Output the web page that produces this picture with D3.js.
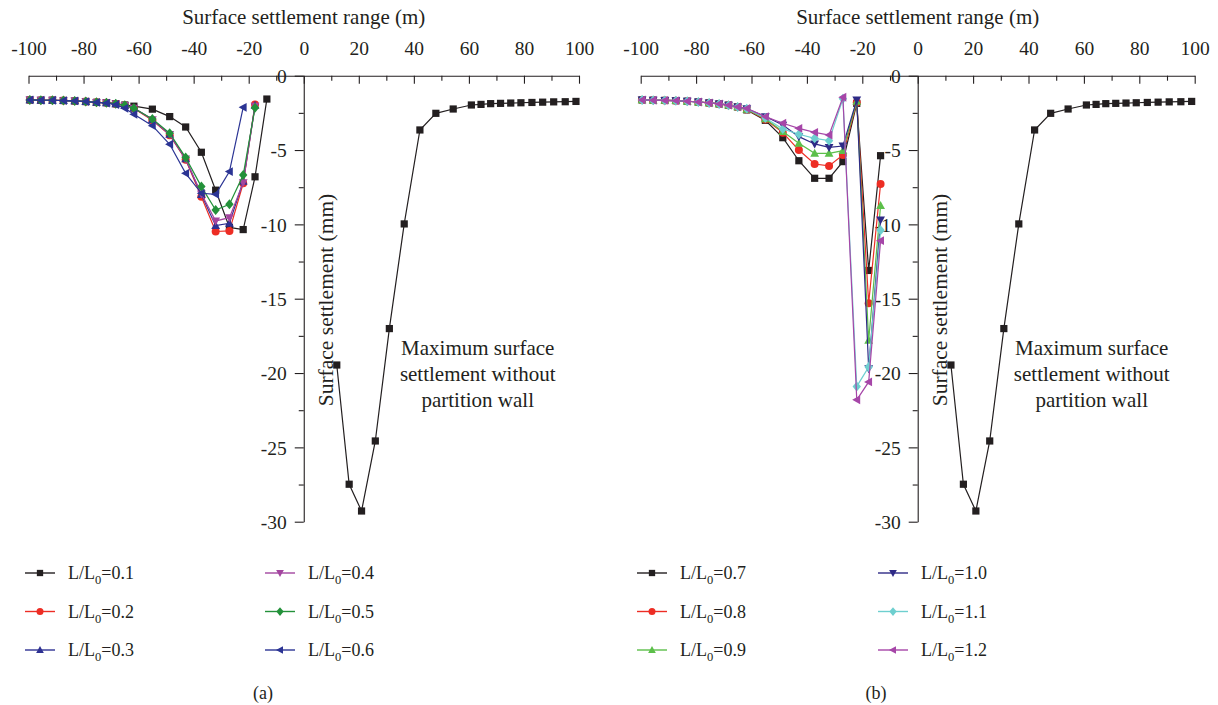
<!DOCTYPE html>
<html>
<head>
<meta charset="utf-8">
<script src="https://cdn.jsdelivr.net/npm/d3@7"></script>
<style>
  html, body { margin: 0; padding: 0; background: #fff; }
  svg { display: block; font-family: "Liberation Serif", "DejaVu Serif", serif; }
  .axis path, .axis line { stroke: #231f20; stroke-width: 1.1; }
  .axis text { fill: #231f20; font-size: 19.5px; font-family: "Liberation Serif", serif; }
</style>
</head>
<body>
<svg id="chart" width="1218" height="705"></svg>
<script>
// Horizontal positions of the monitoring points on the partitioned side (m)
const xLeft = [-99.5, -95.5, -91.3, -87.3, -83.2, -79.2, -75.3, -71.7, -68.3, -65.0,
               -61.7, -55.0, -48.7, -42.9, -37.2, -32.0, -27.0, -22.0, -17.7, -13.4];

// Panel (a): settlement (mm) for L/L0 = 0.1 ... 0.6
const s01 = [-1.63, -1.65, -1.65, -1.67, -1.70, -1.74, -1.79, -1.81, -1.88, -1.97,
             -2.05, -2.25, -2.75, -3.45, -5.15, -7.70, -10.20, -10.35, -6.80, -1.57];
const s02 = [-1.63, -1.65, -1.65, -1.67, -1.70, -1.74, -1.79, -1.82, -1.90, -2.00,
             -2.20, -3.00, -4.00, -5.65, -8.14, -10.48, -10.44, -7.24, -1.93];
const s03 = [-1.63, -1.65, -1.65, -1.67, -1.70, -1.74, -1.79, -1.82, -1.90, -2.00,
             -2.18, -2.95, -3.95, -5.60, -8.00, -10.09, -9.93, -7.10, -2.00];
const s04 = [-1.63, -1.65, -1.65, -1.67, -1.70, -1.74, -1.79, -1.82, -1.90, -2.00,
             -2.18, -2.95, -3.95, -5.60, -7.95, -9.77, -9.55, -7.20, -2.05];
const s05 = [-1.63, -1.65, -1.65, -1.67, -1.70, -1.74, -1.79, -1.82, -1.89, -1.98,
             -2.19, -2.91, -3.87, -5.51, -7.46, -9.03, -8.65, -6.68, -2.15];
const s06 = [-1.63, -1.65, -1.65, -1.67, -1.70, -1.74, -1.80, -1.85, -1.95, -2.19,
             -2.60, -3.36, -4.61, -6.57, -7.91, -7.98, -6.45, -2.13];

// Panel (b): settlement (mm) for L/L0 = 0.7 ... 1.2
const s07 = [-1.63, -1.65, -1.66, -1.68, -1.72, -1.77, -1.83, -1.90, -1.98, -2.10,
             -2.30, -3.00, -4.17, -5.72, -6.90, -6.90, -5.78, -1.86, -13.10, -5.38];
const s08 = [-1.63, -1.65, -1.66, -1.68, -1.72, -1.77, -1.83, -1.90, -1.98, -2.10,
             -2.28, -2.95, -3.83, -5.00, -5.94, -6.07, -5.33, -1.80, -15.30, -7.28];
const s09 = [-1.63, -1.65, -1.66, -1.68, -1.72, -1.77, -1.83, -1.90, -1.98, -2.10,
             -2.26, -2.90, -3.76, -4.55, -5.22, -5.22, -5.04, -1.72, -17.80, -8.74];
const s10 = [-1.63, -1.65, -1.66, -1.68, -1.72, -1.77, -1.83, -1.90, -1.98, -2.10,
             -2.22, -2.75, -3.32, -4.10, -4.59, -4.82, -4.73, -1.63, -19.70, -9.70];
const s11 = [-1.63, -1.65, -1.66, -1.68, -1.72, -1.77, -1.83, -1.90, -1.98, -2.10,
             -2.22, -2.85, -3.58, -3.94, -4.21, -4.37, -1.55, -20.90, -19.60, -10.40];
const s12 = [-1.63, -1.65, -1.66, -1.68, -1.72, -1.77, -1.83, -1.90, -1.98, -2.10,
             -2.20, -2.75, -3.20, -3.54, -3.81, -3.99, -1.45, -21.80, -20.60, -11.10];

// Settlement without partition wall (shown in both panels)
const refX = [12.0, 16.5, 21.0, 26.0, 31.1, 36.5, 42.2, 48.0, 54.3, 60.9,
              64.4, 67.9, 71.5, 75.2, 78.9, 82.9, 86.8, 90.8, 95.0, 98.9];
const refY = [-19.46, -27.48, -29.28, -24.57, -17.01, -9.97, -3.65, -2.53, -2.24, -1.97,
              -1.93, -1.88, -1.86, -1.84, -1.82, -1.80, -1.78, -1.76, -1.75, -1.73];

const xTicks = [-100, -80, -60, -40, -20, 0, 20, 40, 60, 80, 100];
const yTicks = [0, -5, -10, -15, -20, -25, -30];
const labelsA = ["0.1", "0.2", "0.3", "0.4", "0.5", "0.6"];
const labelsB = ["0.7", "0.8", "0.9", "1.0", "1.1", "1.2"];
const colorsA = ["#231f20", "#ed2d24", "#2e3192", "#a3459f", "#23913a", "#2b3494"];
const colorsB = ["#231f20", "#ed2d24", "#5cbf4a", "#2e2a86", "#6ecfcf", "#a646a8"];
const shapes = ["square", "circle", "triUp", "triDown", "diamond", "triLeft"];

const svg = d3.select("#chart");
const ink = "#231f20";
const plain = d => String(d);   // hyphen-minus tick labels

function marker(sel, shape, color, s) {
  const h = s / 2;
  if (shape === "square") {
    sel.append("rect").attr("x", -h * 0.9).attr("y", -h * 0.9)
      .attr("width", s * 0.9).attr("height", s * 0.9).attr("fill", color);
  } else if (shape === "circle") {
    sel.append("circle").attr("r", h).attr("fill", color);
  } else {
    let pts;
    if (shape === "triUp") pts = [[0, -h * 1.15], [h * 1.1, h * 0.85], [-h * 1.1, h * 0.85]];
    if (shape === "triDown") pts = [[0, h * 1.15], [h * 1.1, -h * 0.85], [-h * 1.1, -h * 0.85]];
    if (shape === "triLeft") pts = [[-h * 1.15, 0], [h * 0.85, -h * 1.1], [h * 0.85, h * 1.1]];
    if (shape === "diamond") pts = [[0, -h * 1.25], [h * 1.05, 0], [0, h * 1.25], [-h * 1.05, 0]];
    sel.append("polygon").attr("points", pts.map(p => p.join(",")).join(" ")).attr("fill", color);
  }
}

function panel(opts) {
  const g = svg.append("g");
  const x = d3.scaleLinear().domain([-100, 100]).range(opts.xRange);
  const y = d3.scaleLinear().domain([0, -30]).range([75.7, 521.7]);
  const x0 = x(0);

  // x axis along the top: minor ticks every 10, major every 20
  g.append("g").attr("class", "axis").attr("transform", "translate(0,75.7)")
    .call(d3.axisTop(x).tickValues(d3.range(-90, 100, 20)).tickSize(-5).tickFormat(""))
    .call(a => a.select(".domain").remove());
  g.append("g").attr("class", "axis").attr("transform", "translate(0,75.7)")
    .call(d3.axisTop(x).tickValues(xTicks).tickSizeInner(-8).tickSizeOuter(0).tickPadding(21)
      .tickFormat(plain));

  // y axis through x = 0
  g.append("g").attr("class", "axis").attr("transform", `translate(${x0},0)`)
    .call(d3.axisLeft(y).tickValues(d3.range(-2.5, -30, -5)).tickSize(5).tickFormat(""))
    .call(a => a.select(".domain").remove());
  g.append("g").attr("class", "axis").attr("transform", `translate(${x0},0)`)
    .call(d3.axisLeft(y).tickValues(yTicks).tickSizeInner(9).tickSizeOuter(0).tickPadding(8)
      .tickFormat(plain))
    .call(a => a.selectAll("text").attr("dy", "0.34em"));

  // axis titles
  g.append("text").attr("x", x0).attr("y", 24).attr("text-anchor", "middle")
    .attr("font-size", 21).attr("fill", ink).text("Surface settlement range (m)");
  g.append("text").attr("transform", `translate(${x0 + 29},300) rotate(-90)`)
    .attr("text-anchor", "middle").attr("font-size", 21.5).attr("fill", ink)
    .text("Surface settlement (mm)");

  const line = d3.line().x(d => x(d[0])).y(d => y(d[1]));

  // curve without partition wall
  const ref = refX.map((v, i) => [v, refY[i]]);
  g.append("path").attr("d", line(ref)).attr("fill", "none").attr("stroke", ink).attr("stroke-width", 1.2);
  ref.forEach(p => {
    const m = g.append("g").attr("transform", `translate(${x(p[0])},${y(p[1])})`);
    marker(m, "square", ink, 8);
  });
  const note = g.append("text").attr("text-anchor", "middle").attr("font-size", 21).attr("fill", ink);
  ["Maximum surface", "settlement without", "partition wall"].forEach((t, i) => {
    note.append("tspan").attr("x", x0 + 174).attr("y", 355 + i * 26).text(t);
  });

  // partitioned cases
  opts.series.forEach((vals, k) => {
    const pts = vals.map((v, i) => [xLeft[i], v]);
    const c = opts.colors[k];
    g.append("path").attr("d", line(pts)).attr("fill", "none").attr("stroke", c).attr("stroke-width", 1.2);
    pts.forEach(p => {
      const m = g.append("g").attr("transform", `translate(${x(p[0])},${y(p[1])})`);
      marker(m, shapes[k], c, 8);
    });
  });

  // legend: two columns of three
  opts.labels.forEach((lab, k) => {
    const col = Math.floor(k / 3), row = k % 3;
    const lx = opts.legendX[col], ly = 573 + row * 38.5;
    const c = opts.colors[k];
    const item = g.append("g").attr("transform", `translate(${lx},${ly})`);
    item.append("line").attr("x1", 0).attr("x2", 30).attr("stroke", c).attr("stroke-width", 1.4);
    const m = item.append("g").attr("transform", "translate(15,0)");
    marker(m, shapes[k], c, 7);
    const t = item.append("text").attr("x", 43).attr("y", 6).attr("font-size", 18).attr("fill", ink);
    t.append("tspan").text("L/L");
    t.append("tspan").attr("font-size", 12.5).attr("dy", 5).text("0");
    t.append("tspan").attr("dy", -5).text("=" + lab);
  });

  g.append("text").attr("x", opts.tag[0]).attr("y", 699).attr("text-anchor", "middle")
    .attr("font-size", 18).attr("fill", ink).text(opts.tag[1]);
}

panel({
  xRange: [28.5, 579],
  series: [s01, s02, s03, s04, s05, s06],
  colors: colorsA,
  labels: labelsA,
  legendX: [25, 265],
  tag: [263, "(a)"]
});
panel({
  xRange: [640.7, 1194.7],
  series: [s07, s08, s09, s10, s11, s12],
  colors: colorsB,
  labels: labelsB,
  legendX: [637, 878],
  tag: [876, "(b)"]
});
</script>
</body>
</html>
